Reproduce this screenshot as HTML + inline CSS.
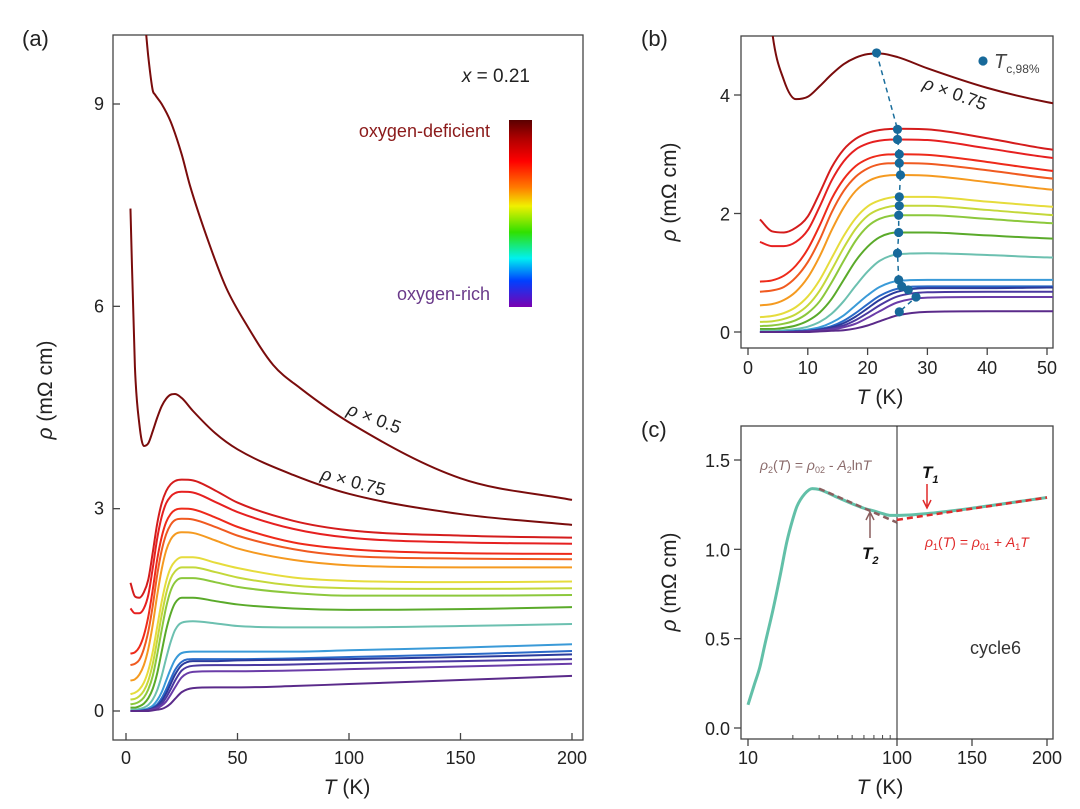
<!DOCTYPE html>
<html><head><meta charset="utf-8"><style>
body{margin:0;background:#fff;}
svg{display:block;font-family:"Liberation Sans",Arial,sans-serif;}
</style></head><body>
<svg id="fig" width="1080" height="809" viewBox="0 0 1080 809">
<defs>
<clipPath id="clipA"><rect x="113" y="35" width="470" height="705"/></clipPath>
<clipPath id="clipB"><rect x="741" y="36" width="312" height="312"/></clipPath>
<clipPath id="clipC"><rect x="741" y="426" width="312" height="313"/></clipPath>
<linearGradient id="cbar" x1="0" y1="0" x2="0" y2="1">
<stop offset="0" stop-color="#5a0000"/><stop offset="0.1" stop-color="#b00000"/><stop offset="0.22" stop-color="#ff0000"/><stop offset="0.36" stop-color="#ff7a00"/><stop offset="0.46" stop-color="#f0f000"/><stop offset="0.6" stop-color="#30e000"/><stop offset="0.74" stop-color="#00f0f0"/><stop offset="0.86" stop-color="#0040ff"/><stop offset="1" stop-color="#7a00b0"/>
</linearGradient>
</defs>
<g id="ga"></g>
<g id="gb"></g>
<g id="gc"></g>
</svg>
<script>
// ---------- data ----------
const temps = [2,4,6,8,10,12,14,16,18,20,22,25,30,40,50,75,100,150,200];
const curveColors = ["#d41c1c","#e62020","#ee2a1a","#f05a20","#f59a20","#e6dc3c","#c4d83a","#8cc83c","#5aaa2a","#6cc0b0","#3a9ad8","#2a6ac8","#2a3a9c","#4a38a0","#6a3ca8","#5a2a8a"];
const rho1 = [1.90,1.70,1.68,1.76,1.95,2.35,2.78,3.08,3.26,3.36,3.41,3.43,3.42,3.27,3.09,2.82,2.68,2.60,2.57];
const rho2 = [1.52,1.45,1.45,1.52,1.72,2.12,2.56,2.88,3.08,3.18,3.23,3.25,3.24,3.10,2.95,2.70,2.57,2.50,2.48];
const rho3 = [0.85,0.87,0.95,1.12,1.40,1.80,2.25,2.58,2.80,2.92,2.98,3.00,2.99,2.87,2.73,2.50,2.40,2.34,2.33];
const rho4 = [0.68,0.70,0.76,0.92,1.18,1.56,2.02,2.38,2.62,2.76,2.83,2.85,2.84,2.73,2.60,2.40,2.30,2.26,2.25];
const rho5 = [0.45,0.47,0.54,0.68,0.92,1.28,1.72,2.10,2.38,2.54,2.62,2.65,2.64,2.53,2.41,2.24,2.16,2.13,2.13];
const rho6 = [0.25,0.27,0.32,0.42,0.60,0.88,1.25,1.62,1.92,2.12,2.22,2.28,2.28,2.20,2.12,1.98,1.93,1.91,1.92];
const rho7 = [0.17,0.18,0.22,0.30,0.45,0.70,1.05,1.42,1.74,1.96,2.07,2.13,2.13,2.06,1.98,1.86,1.82,1.81,1.82];
const rho8 = [0.10,0.11,0.14,0.20,0.32,0.52,0.84,1.20,1.54,1.78,1.91,1.97,1.97,1.91,1.84,1.75,1.71,1.71,1.72];
const rho9 = [0.05,0.05,0.07,0.11,0.19,0.33,0.56,0.88,1.20,1.44,1.60,1.68,1.68,1.63,1.58,1.52,1.50,1.51,1.54];
const rho10 = [0.02,0.02,0.03,0.05,0.09,0.17,0.31,0.52,0.78,1.02,1.20,1.31,1.33,1.30,1.26,1.24,1.24,1.26,1.29];
const rho11 = [0.00,0.00,0.01,0.02,0.04,0.08,0.16,0.28,0.45,0.62,0.76,0.86,0.88,0.88,0.88,0.88,0.90,0.94,0.99];
const rho12 = [0.00,0.00,0.00,0.01,0.02,0.05,0.10,0.19,0.32,0.47,0.61,0.73,0.77,0.77,0.77,0.78,0.80,0.84,0.89];
const rho13 = [0.00,0.00,0.00,0.01,0.02,0.04,0.08,0.15,0.26,0.40,0.54,0.68,0.74,0.74,0.75,0.76,0.77,0.80,0.84];
const rho14 = [0.00,0.00,0.00,0.00,0.01,0.03,0.06,0.11,0.20,0.32,0.45,0.60,0.67,0.68,0.68,0.69,0.71,0.74,0.77];
const rho15 = [0.00,0.00,0.00,0.00,0.01,0.02,0.04,0.08,0.14,0.24,0.35,0.50,0.58,0.59,0.59,0.60,0.62,0.66,0.70];
const rho16 = [0.00,0.00,0.00,0.00,0.00,0.01,0.02,0.03,0.06,0.11,0.18,0.28,0.34,0.35,0.35,0.37,0.40,0.46,0.52];
const rhoScaled075 = [7.45,5.1,4.25,3.93,3.97,4.15,4.35,4.52,4.63,4.69,4.70,4.64,4.45,4.12,3.88,3.50,3.22,2.92,2.76];
const tempsHalf = [9,10,12,13,16,20,25,28.6,37.5,45,54,66,78,102,150,200];
const rhoScaled05 = [10.05,9.7,9.2,9.14,9.0,8.74,8.25,7.8,6.91,6.27,5.73,5.13,4.79,4.24,3.45,3.13];
const tcT = [21.5,25.0,25.0,25.3,25.3,25.5,25.3,25.3,25.2,25.2,25.0,25.2,25.7,26.8,28.1,25.3];
const tcRho = [4.71,3.42,3.25,3.0,2.85,2.65,2.28,2.13,1.97,1.68,1.33,0.88,0.77,0.71,0.59,0.34];
const cT = [10,11,12,13,14.7,16.5,18.2,20,21.3,24,27,30,40,50,60,70,80,90,100,120,150,175,200];
const cRho = [0.13,0.24,0.34,0.47,0.66,0.86,1.04,1.17,1.24,1.31,1.34,1.335,1.29,1.255,1.23,1.215,1.2,1.19,1.19,1.20,1.23,1.26,1.29];
const fit2T = [30,100];
const fit2Rho = [1.34,1.15];
const fit1T = [100,200];
const fit1Rho = [1.165,1.29];
const ticksAx = [0,50,100,150,200];
const ticksAy = [0,3,6,9];
const ticksBx = [0,10,20,30,40,50];
const ticksBy = [0,2,4];
const ticksCx = [10,100,150,200];
const minorCx = [20,30,40,50,60,70,80,90];
const ticksCy = ["0.0","0.5","1.0","1.5"];

const colored = [rho1,rho2,rho3,rho4,rho5,rho6,rho7,rho8,rho9,rho10,rho11,rho12,rho13,rho14,rho15,rho16];

// ---------- scales ----------
const ax = t => 126 + t*(572-126)/200;
const ay = r => 711 - r*(711-104)/9;
const bx = t => 748 + t*(1047-748)/50;
const by = r => 332 - r*(332-95)/4;
const cx = t => t <= 100 ? 748 + 149*Math.log10(t/10) : 897 + (t-100)*1.5;
const cy = r => 728 - r*(728-460)/1.5;

const NS = "http://www.w3.org/2000/svg";
function mk(tag, attrs, parent, text){
  const e = document.createElementNS(NS, tag);
  for (const k in attrs) e.setAttribute(k, attrs[k]);
  if (text !== undefined) e.textContent = text;
  parent.appendChild(e); return e;
}
function monoPath(px, py){
  const n = px.length; if (n < 2) return "";
  const d = [], m = new Array(n);
  for (let i=0;i<n-1;i++) d.push((py[i+1]-py[i])/(px[i+1]-px[i]));
  m[0]=d[0]; m[n-1]=d[n-2];
  for (let i=1;i<n-1;i++){ m[i] = (d[i-1]*d[i] <= 0) ? 0 : (d[i-1]+d[i])/2; }
  for (let i=0;i<n-1;i++){
    if (d[i]===0){ m[i]=0; m[i+1]=0; continue; }
    const a=m[i]/d[i], b=m[i+1]/d[i], s=a*a+b*b;
    if (s>9){ const t=3/Math.sqrt(s); m[i]=t*a*d[i]; m[i+1]=t*b*d[i]; }
  }
  let p = "M"+px[0].toFixed(2)+","+py[0].toFixed(2);
  for (let i=0;i<n-1;i++){
    const h=(px[i+1]-px[i])/3;
    p += "C"+(px[i]+h).toFixed(2)+","+(py[i]+m[i]*h).toFixed(2)+" "+(px[i+1]-h).toFixed(2)+","+(py[i+1]-m[i+1]*h).toFixed(2)+" "+px[i+1].toFixed(2)+","+py[i+1].toFixed(2);
  }
  return p;
}
function txt(parent, x, y, s, attrs, name){
  const e = mk("text", Object.assign({x:x, y:y, "font-size":18, fill:"#222"}, attrs||{}), parent, s);
  
  
  return e;
}

// ---------- panel a ----------
const ga = document.getElementById("ga");
txt(ga, 22, 46, "(a)", {"font-size":22}, "panel-a-label");
const fa = mk("rect",{x:113,y:35,width:470,height:705,fill:"none",stroke:"#444","stroke-width":1.3},ga);
 
ticksAx.forEach(t=>{
  const l = mk("line",{x1:ax(t),x2:ax(t),y1:740,y2:733,stroke:"#444","stroke-width":1.3},ga);
   
  txt(ga, ax(t), 764, String(t), {"text-anchor":"middle"}, "x-tick-label");
});
ticksAy.forEach(r=>{
  const l = mk("line",{x1:113,x2:120,y1:ay(r),y2:ay(r),stroke:"#444","stroke-width":1.3},ga);
   
  txt(ga, 104, ay(r)+6, String(r), {"text-anchor":"end"}, "y-tick-label");
});
const aYl = txt(ga, 0, 0, "", {"font-size":21,"text-anchor":"middle",transform:"translate(52,390) rotate(-90)"}, "y-axis-title");
aYl.innerHTML = '<tspan font-style="italic">ρ</tspan> (mΩ cm)';
const aXl = txt(ga, 347, 794, "", {"font-size":21,"text-anchor":"middle"}, "x-axis-title");
aXl.innerHTML = '<tspan font-style="italic">T</tspan> (K)';
const ca = mk("g",{"clip-path":"url(#clipA)"},ga);
 
colored.forEach((arr,i)=>{
  const p = mk("path",{d:monoPath(temps.map(ax), arr.map(ay)),fill:"none",stroke:curveColors[i],"stroke-width":2},ca);
   
});
{
  const p = mk("path",{d:monoPath(temps.map(ax), rhoScaled075.map(ay)),fill:"none",stroke:"#7a0c0c","stroke-width":2},ca);
   
  const q = mk("path",{d:monoPath(tempsHalf.map(ax), rhoScaled05.map(ay)),fill:"none",stroke:"#7a0c0c","stroke-width":2},ca);
   
}
const l05 = txt(ga,0,0,"",{"font-size":18,transform:"translate(346,414) rotate(21)"},"label-rho-x0.5");
l05.innerHTML='<tspan font-style="italic">ρ</tspan> × 0.5';
const l075 = txt(ga,0,0,"",{"font-size":18,transform:"translate(320,479) rotate(15)"},"label-rho-x0.75");
l075.innerHTML='<tspan font-style="italic">ρ</tspan> × 0.75';
const xl = txt(ga,530,82,"",{"text-anchor":"end","font-size":19},"composition-label");
xl.innerHTML='<tspan font-style="italic">x</tspan> = 0.21';
txt(ga,490,137,"oxygen-deficient",{"text-anchor":"end","fill":"#8b1a1a","font-size":18},"oxygen-deficient-label");
txt(ga,490,300,"oxygen-rich",{"text-anchor":"end","fill":"#6a3a8a","font-size":18},"oxygen-rich-label");
const cb = mk("rect",{x:509,y:120,width:23,height:187,fill:"url(#cbar)"},ga);
 

// ---------- panel b ----------
const gb = document.getElementById("gb");
txt(gb, 641, 46, "(b)", {"font-size":22}, "panel-b-label");
const fb = mk("rect",{x:741,y:36,width:312,height:312,fill:"none",stroke:"#444","stroke-width":1.3},gb);
 
ticksBx.forEach(t=>{
  const l = mk("line",{x1:bx(t),x2:bx(t),y1:348,y2:355,stroke:"#444","stroke-width":1.3},gb);
   
  txt(gb, bx(t), 374, String(t), {"text-anchor":"middle"}, "x-tick-label");
});
ticksBy.forEach(r=>{
  const l = mk("line",{x1:734,x2:741,y1:by(r),y2:by(r),stroke:"#444","stroke-width":1.3},gb);
   
  txt(gb, 730, by(r)+7, String(r), {"text-anchor":"end"}, "y-tick-label");
});
const bYl = txt(gb,0,0,"",{"font-size":21,"text-anchor":"middle",transform:"translate(676,192) rotate(-90)"},"y-axis-title");
bYl.innerHTML='<tspan font-style="italic">ρ</tspan> (mΩ cm)';
const bXl = txt(gb,880,404,"",{"font-size":21,"text-anchor":"middle"},"x-axis-title");
bXl.innerHTML='<tspan font-style="italic">T</tspan> (K)';
const cbg = mk("g",{"clip-path":"url(#clipB)"},gb);
 
colored.forEach((arr,i)=>{
  const p = mk("path",{d:monoPath(temps.map(bx), arr.map(by)),fill:"none",stroke:curveColors[i],"stroke-width":2},cbg);
   
});
{
  const p = mk("path",{d:monoPath(temps.map(bx), rhoScaled075.map(by)),fill:"none",stroke:"#7a0c0c","stroke-width":2},cbg);
   
}
{
  const dl = mk("polyline",{points:tcT.map((t,i)=>bx(t)+","+by(tcRho[i])).join(" "),fill:"none",stroke:"#1a6e9c","stroke-width":1.5,"stroke-dasharray":"5,4"},gb);
   
  tcT.forEach((t,i)=>{
    const c = mk("circle",{cx:bx(t),cy:by(tcRho[i]),r:4.6,fill:"#17699a"},gb);
     
  });
}
const lgd = mk("circle",{cx:983,cy:61,r:4.6,fill:"#17699a"},gb);
 
const lgt = txt(gb,994,68,"",{"font-size":20,fill:"#444"},"legend-tc-label");
lgt.innerHTML='<tspan font-style="italic">T</tspan><tspan font-size="12" dy="5">c,98%</tspan>';
const lb = txt(gb,0,0,"",{"font-size":18,transform:"translate(922,88) rotate(20)"},"label-rho-x0.75");
lb.innerHTML='<tspan font-style="italic">ρ</tspan> × 0.75';

// ---------- panel c ----------
const gc = document.getElementById("gc");
txt(gc, 641, 437, "(c)", {"font-size":22}, "panel-c-label");
const fc = mk("rect",{x:741,y:426,width:312,height:313,fill:"none",stroke:"#444","stroke-width":1.3},gc);
 
const vl = mk("line",{x1:cx(100),x2:cx(100),y1:426,y2:739,stroke:"#222","stroke-width":1},gc);
 
ticksCx.forEach(t=>{
  const l = mk("line",{x1:cx(t),x2:cx(t),y1:739,y2:746,stroke:"#444","stroke-width":1.3},gc);
   
  txt(gc, cx(t), 764, String(t), {"text-anchor":"middle"}, "x-tick-label");
});
minorCx.forEach(t=>{
  const l = mk("line",{x1:cx(t),x2:cx(t),y1:739,y2:735,stroke:"#444","stroke-width":1},gc);
   
});
ticksCy.forEach(s=>{
  const r = parseFloat(s);
  const l = mk("line",{x1:734,x2:741,y1:cy(r),y2:cy(r),stroke:"#444","stroke-width":1.3},gc);
   
  txt(gc, 730, cy(r)+7, s, {"text-anchor":"end"}, "y-tick-label");
});
const cYl = txt(gc,0,0,"",{"font-size":21,"text-anchor":"middle",transform:"translate(676,582) rotate(-90)"},"y-axis-title");
cYl.innerHTML='<tspan font-style="italic">ρ</tspan> (mΩ cm)';
const cXl = txt(gc,880,794,"",{"font-size":21,"text-anchor":"middle"},"x-axis-title");
cXl.innerHTML='<tspan font-style="italic">T</tspan> (K)';
const ccg = mk("g",{"clip-path":"url(#clipC)"},gc);
 
{
  const p = mk("path",{d:monoPath(cT.map(cx), cRho.map(cy)),fill:"none",stroke:"#62c0a8","stroke-width":3},ccg);
   
  const f2 = mk("polyline",{points:fit2T.map((t,i)=>cx(t)+","+cy(fit2Rho[i])).join(" "),fill:"none",stroke:"#8a5e5e","stroke-width":2.5,"stroke-dasharray":"6,4"},ccg);
   
  const f1 = mk("polyline",{points:fit1T.map((t,i)=>cx(t)+","+cy(fit1Rho[i])).join(" "),fill:"none",stroke:"#e02a2a","stroke-width":2.5,"stroke-dasharray":"6,4"},ccg);
   
}
const a1 = mk("path",{d:"M927,484 L927,506 M923,500 L927,508 L931,500",fill:"none",stroke:"#e02a2a","stroke-width":1.5},gc);
 
const a2 = mk("path",{d:"M870,538 L870,514 M866,520 L870,512 L874,520",fill:"none",stroke:"#8a5e5e","stroke-width":1.5},gc);
 
const t1 = txt(gc,922,478,"",{"font-size":17,"font-weight":"bold","font-style":"italic",fill:"#111"},"t1-label");
t1.innerHTML='T<tspan font-size="11" dy="5">1</tspan>';
const t2 = txt(gc,862,559,"",{"font-size":17,"font-weight":"bold","font-style":"italic",fill:"#111"},"t2-label");
t2.innerHTML='T<tspan font-size="11" dy="5">2</tspan>';
const e2 = txt(gc,760,470,"",{"font-size":14,fill:"#8a6a6a"},"fit-ln-equation");
e2.innerHTML='<tspan font-style="italic">ρ</tspan><tspan font-size="9" dy="3">2</tspan><tspan dy="-3">(</tspan><tspan font-style="italic">T</tspan>) = <tspan font-style="italic">ρ</tspan><tspan font-size="9" dy="3">02</tspan><tspan dy="-3"> - </tspan><tspan font-style="italic">A</tspan><tspan font-size="9" dy="3">2</tspan><tspan dy="-3">ln</tspan><tspan font-style="italic">T</tspan>';
const e1 = txt(gc,925,547,"",{"font-size":14,fill:"#e02a2a"},"fit-linear-equation");
e1.innerHTML='<tspan font-style="italic">ρ</tspan><tspan font-size="9" dy="3">1</tspan><tspan dy="-3">(</tspan><tspan font-style="italic">T</tspan>) = <tspan font-style="italic">ρ</tspan><tspan font-size="9" dy="3">01</tspan><tspan dy="-3"> + </tspan><tspan font-style="italic">A</tspan><tspan font-size="9" dy="3">1</tspan><tspan dy="-3" font-style="italic">T</tspan>';
txt(gc,970,654,"cycle6",{"font-size":18,fill:"#333"},"cycle6-label");
</script>
</body></html>
